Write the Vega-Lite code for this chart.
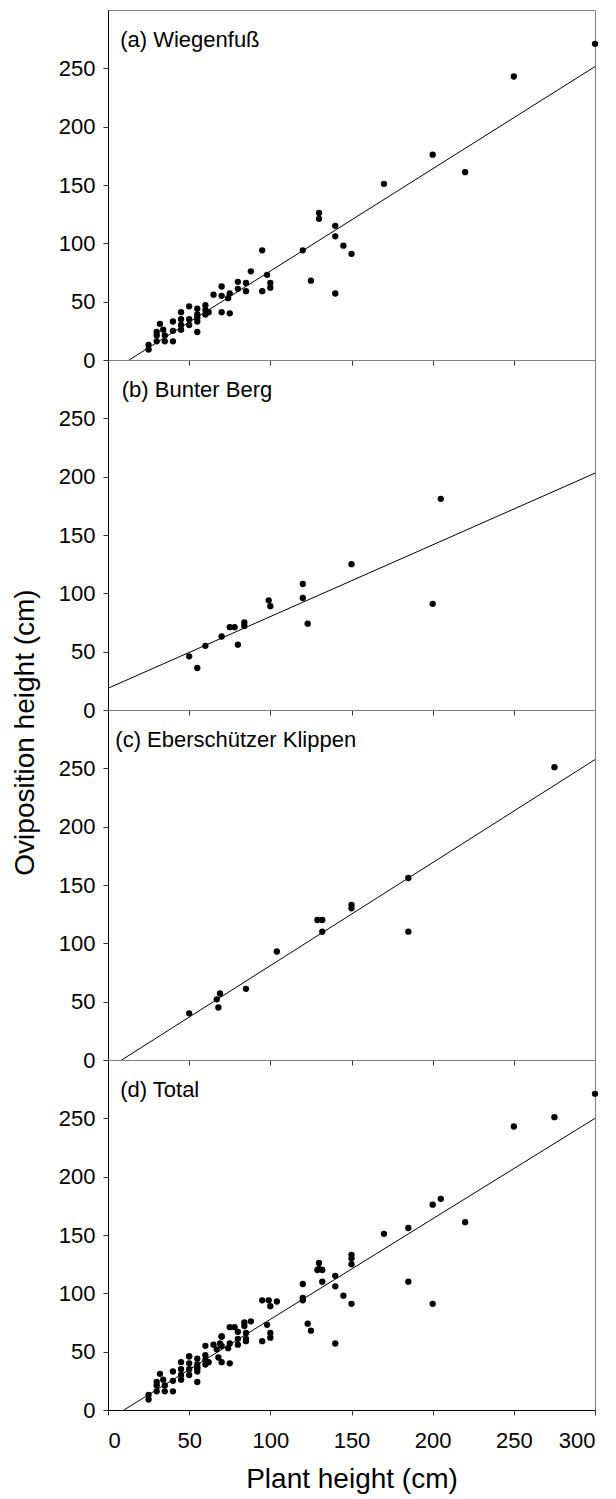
{
  "$schema": "https://vega.github.io/schema/vega-lite/v6.json",
  "padding": {"left": 10, "top": 9, "right": 2, "bottom": 2},
  "bounds": "flush",
  "spacing": 0,
  "config": {
    "font": "Liberation Sans",
    "view": {"stroke": "#808080", "strokeWidth": 1},
    "axis": {
      "labelFont": "Liberation Sans", "labelFontSize": 22, "labelColor": "#000",
      "titleFont": "Liberation Sans", "titleFontSize": 28, "titleFontWeight": "normal", "titleColor": "#000",
      "domainColor": "#000", "tickColor": "#333", "tickSize": 5, "grid": false
    }
  },
  "datasets": {
    "pts": [
      {"site":"a","plant":25,"ovi":9},{"site":"a","plant":25,"ovi":13},{"site":"a","plant":30,"ovi":16},{"site":"a","plant":30,"ovi":21},{"site":"a","plant":30,"ovi":24},{"site":"a","plant":32,"ovi":31},{"site":"a","plant":34,"ovi":26},{"site":"a","plant":35,"ovi":16},{"site":"a","plant":35,"ovi":21},{"site":"a","plant":40,"ovi":16},{"site":"a","plant":40,"ovi":25},{"site":"a","plant":40,"ovi":33},{"site":"a","plant":45,"ovi":26},{"site":"a","plant":45,"ovi":30},{"site":"a","plant":45,"ovi":35},{"site":"a","plant":45,"ovi":41},{"site":"a","plant":50,"ovi":30},{"site":"a","plant":50,"ovi":35},{"site":"a","plant":50,"ovi":46},{"site":"a","plant":55,"ovi":24},{"site":"a","plant":55,"ovi":33},{"site":"a","plant":55,"ovi":36},{"site":"a","plant":55,"ovi":39},{"site":"a","plant":55,"ovi":44},{"site":"a","plant":60,"ovi":39},{"site":"a","plant":60,"ovi":43},{"site":"a","plant":60,"ovi":47},{"site":"a","plant":62,"ovi":41},{"site":"a","plant":65,"ovi":56},{"site":"a","plant":70,"ovi":41},{"site":"a","plant":70,"ovi":55},{"site":"a","plant":70,"ovi":63},{"site":"a","plant":74,"ovi":53},{"site":"a","plant":75,"ovi":40},{"site":"a","plant":75,"ovi":57},{"site":"a","plant":80,"ovi":61},{"site":"a","plant":80,"ovi":67},{"site":"a","plant":85,"ovi":59},{"site":"a","plant":85,"ovi":66},{"site":"a","plant":88,"ovi":76},{"site":"a","plant":95,"ovi":59},{"site":"a","plant":95,"ovi":94},{"site":"a","plant":98,"ovi":73},{"site":"a","plant":100,"ovi":62},{"site":"a","plant":100,"ovi":66},{"site":"a","plant":120,"ovi":94},{"site":"a","plant":125,"ovi":68},{"site":"a","plant":130,"ovi":121},{"site":"a","plant":130,"ovi":126},{"site":"a","plant":140,"ovi":57},{"site":"a","plant":140,"ovi":106},{"site":"a","plant":140,"ovi":115},{"site":"a","plant":145,"ovi":98},{"site":"a","plant":150,"ovi":91},{"site":"a","plant":170,"ovi":151},{"site":"a","plant":200,"ovi":176},{"site":"a","plant":220,"ovi":161},{"site":"a","plant":250,"ovi":243},{"site":"a","plant":300,"ovi":271},
      {"site":"b","plant":50,"ovi":46},{"site":"b","plant":55,"ovi":36},{"site":"b","plant":60,"ovi":55},{"site":"b","plant":70,"ovi":63},{"site":"b","plant":75,"ovi":71},{"site":"b","plant":78,"ovi":71},{"site":"b","plant":80,"ovi":56},{"site":"b","plant":84,"ovi":72},{"site":"b","plant":84,"ovi":75},{"site":"b","plant":99,"ovi":94},{"site":"b","plant":100,"ovi":89},{"site":"b","plant":120,"ovi":96},{"site":"b","plant":120,"ovi":108},{"site":"b","plant":123,"ovi":74},{"site":"b","plant":150,"ovi":125},{"site":"b","plant":200,"ovi":91},{"site":"b","plant":205,"ovi":181},
      {"site":"c","plant":50,"ovi":40},{"site":"c","plant":67,"ovi":52},{"site":"c","plant":68,"ovi":45},{"site":"c","plant":69,"ovi":57},{"site":"c","plant":85,"ovi":61},{"site":"c","plant":104,"ovi":93},{"site":"c","plant":129,"ovi":120},{"site":"c","plant":132,"ovi":120},{"site":"c","plant":132,"ovi":110},{"site":"c","plant":150,"ovi":130},{"site":"c","plant":150,"ovi":133},{"site":"c","plant":185,"ovi":156},{"site":"c","plant":185,"ovi":110},{"site":"c","plant":275,"ovi":251}
    ],
    "fits": [
      {"panel":"a","x1":13,"y1":0,"x2":300,"y2":251.5},
      {"panel":"b","x1":0,"y1":18.6,"x2":300,"y2":203},
      {"panel":"c","x1":8.4,"y1":0,"x2":300,"y2":257.5},
      {"panel":"d","x1":9.8,"y1":0,"x2":300,"y2":250}
    ]
  },
  "vconcat": [
    {
      "width": 487, "height": 350,
      "layer": [
        {
          "data": {"name": "pts"},
          "transform": [{"filter": "datum.site === 'a'"}],
          "mark": {"type": "circle", "size": 40, "color": "#000", "opacity": 1},
          "encoding": {
            "x": {"field": "plant", "type": "quantitative", "scale": {"domain": [0, 300], "nice": false}, "axis": {"labels": false, "title": null, "values": [0, 50, 100, 150, 200, 250, 300]}},
            "y": {"field": "ovi", "type": "quantitative", "scale": {"domain": [0, 300], "nice": false}, "axis": {"title": null, "values": [0, 50, 100, 150, 200, 250], "labelPadding": 8}}
          }
        },
        {
          "data": {"name": "fits"},
          "transform": [{"filter": "datum.panel === 'a'"}],
          "mark": {"type": "rule", "color": "#000", "strokeWidth": 1},
          "encoding": {"x": {"field": "x1", "type": "quantitative"}, "y": {"field": "y1", "type": "quantitative"}, "x2": {"field": "x2"}, "y2": {"field": "y2"}}
        },
        {
          "data": {"values": [{"label": "(a) Wiegenfuß"}]},
          "mark": {"type": "text", "align": "left", "baseline": "alphabetic", "fontSize": 22, "font": "Liberation Sans", "color": "#000"},
          "encoding": {"x": {"datum": 7.5, "type": "quantitative"}, "y": {"datum": 268, "type": "quantitative"}, "text": {"field": "label"}}
        }
      ]
    },
    {
      "width": 487, "height": 350,
      "layer": [
        {
          "data": {"name": "pts"},
          "transform": [{"filter": "datum.site === 'b'"}],
          "mark": {"type": "circle", "size": 40, "color": "#000", "opacity": 1},
          "encoding": {
            "x": {"field": "plant", "type": "quantitative", "scale": {"domain": [0, 300], "nice": false}, "axis": {"labels": false, "title": null, "values": [0, 50, 100, 150, 200, 250, 300]}},
            "y": {"field": "ovi", "type": "quantitative", "scale": {"domain": [0, 300], "nice": false}, "axis": {"title": "Oviposition height (cm)", "values": [0, 50, 100, 150, 200, 250], "labelPadding": 8, "titleX": -75, "titleY": 372, "titleAngle": -90, "titleAlign": "center", "titleBaseline": "alphabetic"}}
          }
        },
        {
          "data": {"name": "fits"},
          "transform": [{"filter": "datum.panel === 'b'"}],
          "mark": {"type": "rule", "color": "#000", "strokeWidth": 1},
          "encoding": {"x": {"field": "x1", "type": "quantitative"}, "y": {"field": "y1", "type": "quantitative"}, "x2": {"field": "x2"}, "y2": {"field": "y2"}}
        },
        {
          "data": {"values": [{"label": "(b) Bunter Berg"}]},
          "mark": {"type": "text", "align": "left", "baseline": "alphabetic", "fontSize": 22, "font": "Liberation Sans", "color": "#000"},
          "encoding": {"x": {"datum": 8.5, "type": "quantitative"}, "y": {"datum": 268, "type": "quantitative"}, "text": {"field": "label"}}
        }
      ]
    },
    {
      "width": 487, "height": 350,
      "layer": [
        {
          "data": {"name": "pts"},
          "transform": [{"filter": "datum.site === 'c'"}],
          "mark": {"type": "circle", "size": 40, "color": "#000", "opacity": 1},
          "encoding": {
            "x": {"field": "plant", "type": "quantitative", "scale": {"domain": [0, 300], "nice": false}, "axis": {"labels": false, "title": null, "values": [0, 50, 100, 150, 200, 250, 300]}},
            "y": {"field": "ovi", "type": "quantitative", "scale": {"domain": [0, 300], "nice": false}, "axis": {"title": null, "values": [0, 50, 100, 150, 200, 250], "labelPadding": 8}}
          }
        },
        {
          "data": {"name": "fits"},
          "transform": [{"filter": "datum.panel === 'c'"}],
          "mark": {"type": "rule", "color": "#000", "strokeWidth": 1},
          "encoding": {"x": {"field": "x1", "type": "quantitative"}, "y": {"field": "y1", "type": "quantitative"}, "x2": {"field": "x2"}, "y2": {"field": "y2"}}
        },
        {
          "data": {"values": [{"label": "(c) Eberschützer Klippen"}]},
          "mark": {"type": "text", "align": "left", "baseline": "alphabetic", "fontSize": 22, "font": "Liberation Sans", "color": "#000"},
          "encoding": {"x": {"datum": 4.5, "type": "quantitative"}, "y": {"datum": 268, "type": "quantitative"}, "text": {"field": "label"}}
        }
      ]
    },
    {
      "width": 487, "height": 350,
      "layer": [
        {
          "data": {"name": "pts"},
          "mark": {"type": "circle", "size": 40, "color": "#000", "opacity": 1},
          "encoding": {
            "x": {"field": "plant", "type": "quantitative", "scale": {"domain": [0, 300], "nice": false}, "axis": {"title": "Plant height (cm)", "values": [0, 50, 100, 150, 200, 250, 300], "labelPadding": 15, "titlePadding": 14}},
            "y": {"field": "ovi", "type": "quantitative", "scale": {"domain": [0, 300], "nice": false}, "axis": {"title": null, "values": [0, 50, 100, 150, 200, 250], "labelPadding": 8}}
          }
        },
        {
          "data": {"name": "fits"},
          "transform": [{"filter": "datum.panel === 'd'"}],
          "mark": {"type": "rule", "color": "#000", "strokeWidth": 1},
          "encoding": {"x": {"field": "x1", "type": "quantitative"}, "y": {"field": "y1", "type": "quantitative"}, "x2": {"field": "x2"}, "y2": {"field": "y2"}}
        },
        {
          "data": {"values": [{"label": "(d) Total"}]},
          "mark": {"type": "text", "align": "left", "baseline": "alphabetic", "fontSize": 22, "font": "Liberation Sans", "color": "#000"},
          "encoding": {"x": {"datum": 7.5, "type": "quantitative"}, "y": {"datum": 268, "type": "quantitative"}, "text": {"field": "label"}}
        }
      ]
    }
  ]
}
